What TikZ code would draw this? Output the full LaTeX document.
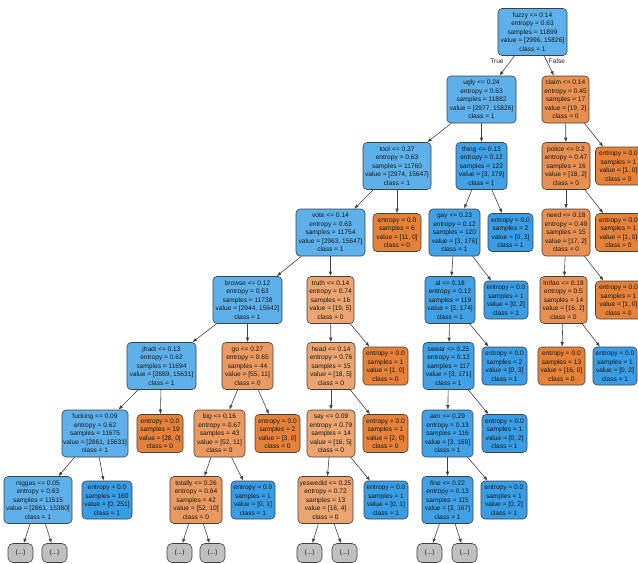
\documentclass[tikz,border=0pt]{standalone}
\usepackage{fontspec}
\setmainfont{Liberation Sans}
\usetikzlibrary{arrows.meta}
\definecolor{bA}{RGB}{94,176,234}
\definecolor{bB}{RGB}{64,161,230}
\definecolor{bL}{RGB}{57,157,229}
\definecolor{oL}{RGB}{229,129,57}
\definecolor{oC}{RGB}{232,144,81}
\definecolor{oT}{RGB}{236,164,112}
\definecolor{oG}{RGB}{234,154,97}
\definecolor{gr}{RGB}{192,192,192}
\newcommand{\spl}[5]{#1\\entropy = #2\\samples = #3\\value = #4\\class = #5}
\newcommand{\lfv}[3]{entropy = 0.0\\samples = #1\\value = #2\\class = #3}
\begin{document}
\begin{tikzpicture}[x=1pt,y=-1pt,
 box/.style={draw=black!75, line width=0.6pt, rounded corners=4pt, align=center, inner sep=0pt, font=\fontsize{6.6}{8.5}\selectfont, text=black!90},
 sp/.style={box, minimum height=47pt},
 lv/.style={box, minimum height=38pt},
 tr/.style={box, fill=gr, minimum width=25pt, minimum height=19pt, rounded corners=5pt},
 ed/.style={draw=black!75, line width=0.6pt, -{Latex[length=4.5pt,width=3.5pt]}},
 lab/.style={font=\fontsize{6.6}{8}\selectfont, text=black!85, inner sep=1pt}
]
\useasboundingbox (0,0) rectangle (638,563);
\clip (0,0) rectangle (638,563);
% level 0
\node[sp,fill=bA,minimum width=69pt] (fuzzy) at (532.5,32) {\spl{fuzzy <= 0.14}{0.63}{11899}{[2996, 15826]}{1}};
% level 1
\node[sp,fill=bA,minimum width=69pt] (ugly) at (481.5,99.5) {\spl{ugly <= 0.24}{0.63}{11882}{[2977, 15826]}{1}};
\node[sp,fill=oC,minimum width=47pt] (claim) at (565.5,99.5) {\spl{claim <= 0.14}{0.45}{17}{[19, 2]}{0}};
% level 2
\node[sp,fill=bA,minimum width=68pt] (tool) at (397,166) {\spl{tool <= 0.37}{0.63}{11760}{[2974, 15647]}{1}};
\node[sp,fill=bB,minimum width=51pt] (thing) at (481.5,166) {\spl{thing <= 0.13}{0.12}{122}{[3, 179]}{1}};
\node[sp,fill=oC,minimum width=48pt] (police) at (566,166) {\spl{police <= 0.2}{0.47}{16}{[18, 2]}{0}};
\node[lv,fill=oL,minimum width=46pt] (r1) at (618.5,166) {\lfv{1}{[1, 0]}{0}};
% level 3
\node[sp,fill=bA,minimum width=69pt] (vote) at (330.5,232.5) {\spl{vote <= 0.14}{0.63}{11754}{[2963, 15647]}{1}};
\node[lv,fill=oL,minimum width=48pt] (ltool) at (397,232.5) {\lfv{6}{[11, 0]}{0}};
\node[sp,fill=bB,minimum width=51pt] (gay) at (454.5,232.5) {\spl{gay <= 0.23}{0.12}{120}{[3, 176]}{1}};
\node[lv,fill=bL,minimum width=45pt] (lthing) at (510.5,232.5) {\lfv{2}{[0, 3]}{1}};
\node[sp,fill=oC,minimum width=48pt] (need) at (566,232.5) {\spl{need <= 0.18}{0.49}{15}{[17, 2]}{0}};
\node[lv,fill=oL,minimum width=46pt] (r2) at (618.5,232.5) {\lfv{1}{[1, 0]}{0}};
% level 4
\node[sp,fill=bA,minimum width=69pt] (browse) at (247.5,300) {\spl{browse <= 0.12}{0.63}{11738}{[2944, 15642]}{1}};
\node[sp,fill=oT,minimum width=47pt] (truth) at (330.5,300) {\spl{truth <= 0.14}{0.74}{16}{[19, 5]}{0}};
\node[sp,fill=bB,minimum width=50pt] (al) at (450,300) {\spl{al <= 0.18}{0.12}{119}{[3, 174]}{1}};
\node[lv,fill=bL,minimum width=44pt] (lgay) at (506,300) {\lfv{1}{[0, 2]}{1}};
\node[sp,fill=oC,minimum width=47pt] (lmfao) at (563.5,300) {\spl{lmfao <= 0.18}{0.5}{14}{[16, 2]}{0}};
\node[lv,fill=oL,minimum width=46pt] (r3) at (618.5,300) {\lfv{1}{[1, 0]}{0}};
% level 5
\node[sp,fill=bA,minimum width=69pt] (jhadi) at (161.5,366) {\spl{jhadi <= 0.13}{0.62}{11694}{[2889, 15631]}{1}};
\node[sp,fill=oG,minimum width=51pt] (go) at (247.5,366) {\spl{go <= 0.27}{0.65}{44}{[55, 11]}{0}};
\node[sp,fill=oT,minimum width=48pt] (head) at (331,366) {\spl{head <= 0.14}{0.76}{15}{[18, 5]}{0}};
\node[lv,fill=oL,minimum width=45pt] (ltruth) at (385.5,366) {\lfv{1}{[1, 0]}{0}};
\node[sp,fill=bB,minimum width=51pt] (swear) at (448.5,366) {\spl{swear <= 0.25}{0.13}{117}{[3, 171]}{1}};
\node[lv,fill=bL,minimum width=45pt] (lal) at (504.5,366) {\lfv{2}{[0, 3]}{1}};
\node[lv,fill=oL,minimum width=47pt] (lm1) at (561.5,366) {\lfv{13}{[16, 0]}{0}};
\node[lv,fill=bL,minimum width=44pt] (lm2) at (615,366) {\lfv{1}{[0, 2]}{1}};
% level 6
\node[sp,fill=bA,minimum width=66pt] (fucking) at (95,433.5) {\spl{fucking <= 0.09}{0.62}{11675}{[2861, 15631]}{1}};
\node[lv,fill=oL,minimum width=46pt] (ljh) at (160,433.5) {\lfv{19}{[28, 0]}{0}};
\node[sp,fill=oG,minimum width=51pt] (big) at (219.5,433.5) {\spl{big <= 0.16}{0.67}{43}{[52, 11]}{0}};
\node[lv,fill=oL,minimum width=45pt] (lgo) at (277.5,433.5) {\lfv{2}{[3, 0]}{0}};
\node[sp,fill=oT,minimum width=48pt] (say) at (331,433.5) {\spl{say <= 0.09}{0.79}{14}{[16, 5]}{0}};
\node[lv,fill=oL,minimum width=45pt] (lhead) at (385.5,433.5) {\lfv{1}{[2, 0]}{0}};
\node[sp,fill=bB,minimum width=51pt] (aim) at (447.5,433.5) {\spl{aim <= 0.29}{0.13}{116}{[3, 169]}{1}};
\node[lv,fill=bL,minimum width=45pt] (lsw) at (504.5,433.5) {\lfv{1}{[0, 2]}{1}};
% level 7
\node[sp,fill=bA,minimum width=68pt] (niggas) at (38,500) {\spl{niggas <= 0.05}{0.63}{11515}{[2861, 15380]}{1}};
\node[lv,fill=bL,minimum width=50pt] (lfk) at (107,500) {\lfv{160}{[0, 251]}{1}};
\node[sp,fill=oG,minimum width=52pt] (totally) at (196,500) {\spl{totally <= 0.26}{0.64}{42}{[52, 10]}{0}};
\node[lv,fill=bL,minimum width=44pt] (lbig) at (253,500) {\lfv{1}{[0, 1]}{1}};
\node[sp,fill=oT,minimum width=55pt] (yesw) at (325.5,500) {\spl{yeswedid <= 0.25}{0.72}{13}{[16, 4]}{0}};
\node[lv,fill=bL,minimum width=44pt] (lsay) at (386,500) {\lfv{1}{[0, 1]}{1}};
\node[sp,fill=bB,minimum width=51pt] (fine) at (447.5,500) {\spl{fine <= 0.22}{0.13}{115}{[3, 167]}{1}};
\node[lv,fill=bL,minimum width=46pt] (laim) at (504,500) {\lfv{1}{[0, 2]}{1}};
% level 8
\node[tr] (t1) at (20.5,553) {(...)};
\node[tr] (t2) at (54.5,553) {(...)};
\node[tr] (t3) at (179.5,553) {(...)};
\node[tr] (t4) at (212.5,553) {(...)};
\node[tr] (t5) at (309.5,553) {(...)};
\node[tr] (t6) at (344.5,553) {(...)};
\node[tr] (t7) at (429.5,553) {(...)};
\node[tr] (t8) at (464.5,553) {(...)};
% edges
\draw[ed] (fuzzy) -- (ugly);
\draw[ed] (fuzzy) -- (claim);
\node[lab] (tlab) at (497,61) {True};
\node[lab] (flab) at (557,61) {False};
\draw[ed] (ugly) -- (tool);
\draw[ed] (ugly) -- (thing);
\draw[ed] (claim) -- (police);
\draw[ed] (claim) -- (r1);
\draw[ed] (tool) -- (vote);
\draw[ed] (tool) -- (ltool);
\draw[ed] (thing) -- (gay);
\draw[ed] (thing) -- (lthing);
\draw[ed] (police) -- (need);
\draw[ed] (police) -- (r2);
\draw[ed] (vote) -- (browse);
\draw[ed] (vote) -- (truth);
\draw[ed] (gay) -- (al);
\draw[ed] (gay) -- (lgay);
\draw[ed] (need) -- (lmfao);
\draw[ed] (need) -- (r3);
\draw[ed] (browse) -- (jhadi);
\draw[ed] (browse) -- (go);
\draw[ed] (truth) -- (head);
\draw[ed] (truth) -- (ltruth);
\draw[ed] (al) -- (swear);
\draw[ed] (al) -- (lal);
\draw[ed] (lmfao) -- (lm1);
\draw[ed] (lmfao) -- (lm2);
\draw[ed] (jhadi) -- (fucking);
\draw[ed] (jhadi) -- (ljh);
\draw[ed] (go) -- (big);
\draw[ed] (go) -- (lgo);
\draw[ed] (head) -- (say);
\draw[ed] (head) -- (lhead);
\draw[ed] (swear) -- (aim);
\draw[ed] (swear) -- (lsw);
\draw[ed] (fucking) -- (niggas);
\draw[ed] (fucking) -- (lfk);
\draw[ed] (big) -- (totally);
\draw[ed] (big) -- (lbig);
\draw[ed] (say) -- (yesw);
\draw[ed] (say) -- (lsay);
\draw[ed] (aim) -- (fine);
\draw[ed] (aim) -- (laim);
\draw[ed] (niggas) -- (t1);
\draw[ed] (niggas) -- (t2);
\draw[ed] (totally) -- (t3);
\draw[ed] (totally) -- (t4);
\draw[ed] (yesw) -- (t5);
\draw[ed] (yesw) -- (t6);
\draw[ed] (fine) -- (t7);
\draw[ed] (fine) -- (t8);
\end{tikzpicture}
\end{document}
